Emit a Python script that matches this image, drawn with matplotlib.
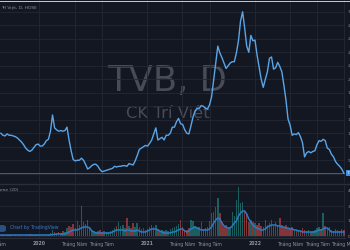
import matplotlib
matplotlib.use('Agg')
import matplotlib.pyplot as plt
import matplotlib.dates as mdates
from matplotlib.lines import Line2D
from matplotlib.patches import FancyBboxPatch
import numpy as np
import pandas as pd

# gia dong cua theo tuan (nghin dong)
price = [13.0, 12.7, 12.6, 12.9, 12.7, 12.7, 12.6, 12.5, 12.3, 12.0,
         11.7, 11.3, 10.8, 10.5, 10.3, 10.5, 10.9, 11.3, 11.4, 11.1,
         11.1, 11.4, 11.9, 12.1, 13.3, 15.7, 13.8, 13.5, 13.3, 13.4,
         13.3, 13.4, 13.9, 12.0, 10.4, 9.1, 8.9, 9.0, 9.0, 9.3,
         9.0, 8.4, 7.7, 7.9, 8.2, 8.4, 8.4, 8.1, 7.6, 7.3,
         7.4, 7.5, 7.6, 7.7, 7.8, 8.1, 8.0, 8.1, 8.1, 8.2,
         8.2, 8.1, 8.5, 8.4, 8.3, 8.9, 9.7, 10.6, 10.8, 11.0,
         11.2, 11.1, 11.5, 12.0, 12.9, 13.8, 12.0, 12.2, 12.4, 12.0,
         12.7, 12.7, 13.0, 13.9, 13.9, 14.7, 15.2, 14.4, 14.3, 13.5,
         13.0, 12.9, 14.1, 15.4, 16.3, 16.7, 16.7, 17.1, 17.0, 16.7,
         16.6, 17.2, 18.4, 20.9, 23.4, 25.9, 24.9, 24.2, 23.4, 22.6,
         23.0, 23.4, 23.6, 23.6, 24.9, 26.7, 29.6, 31.0, 28.6, 25.9,
         25.0, 27.5, 26.7, 26.8, 24.6, 22.8, 21.0, 19.8, 21.0, 22.1,
         24.1, 24.3, 22.5, 22.7, 23.5, 22.9, 22.1, 20.1, 17.9, 15.1,
         14.2, 12.7, 12.9, 12.8, 13.1, 12.5, 11.6, 9.5, 10.1, 10.3,
         10.1, 10.3, 10.4, 11.3, 11.9, 11.8, 12.1, 11.9, 10.8, 10.6,
         9.9, 9.5, 8.8, 8.4, 8.1, 7.7, 7.1]

# khoi luong (trieu cp)
volume = [0.1, 0.1, 0.05, 0.1, 0.15, 0.1, 0.05, 0.1, 0.1, 0.15,
          0.1, 0.05, 0.1, 0.1, 0.2, 0.1, 0.1, 0.15, 0.1, 0.05,
          0.1, 0.1, 0.15, 0.2, 0.3, 0.6, 0.4, 0.3, 0.4, 0.3,
          0.5, 0.4, 0.8, 1.0, 0.9, 1.2, 0.8, 1.5, 1.1, 3.0,
          1.4, 1.2, 1.6, 0.9, 0.6, 0.5, 0.4, 0.5, 0.6, 0.4,
          0.5, 0.4, 0.4, 0.5, 0.6, 0.8, 1.0, 1.4, 1.0, 1.1,
          0.8, 1.8, 1.0, 0.8, 1.3, 0.9, 1.3, 0.9, 0.7, 0.8,
          0.6, 0.7, 0.9, 1.1, 0.9, 1.1, 0.7, 0.5, 0.6, 0.5,
          0.6, 0.5, 0.7, 0.8, 0.9, 1.0, 1.2, 1.6, 0.9, 0.6,
          0.6, 0.8, 1.6, 1.5, 1.0, 0.8, 0.9, 1.4, 0.7, 0.8,
          0.9, 1.5, 2.3, 2.4, 2.9, 3.8, 2.3, 1.4, 0.9, 1.1,
          0.8, 0.9, 2.4, 2.0, 3.6, 4.9, 3.3, 3.4, 2.5, 2.3,
          1.4, 1.6, 1.4, 1.3, 1.1, 1.3, 1.0, 0.9, 1.6, 1.1,
          1.3, 1.6, 1.0, 1.4, 1.0, 1.8, 1.1, 0.9, 1.1, 0.8,
          0.7, 0.9, 0.6, 0.5, 0.6, 0.5, 0.8, 0.6, 0.5, 0.6,
          0.4, 0.5, 0.6, 0.8, 0.9, 0.7, 2.3, 1.0, 0.8, 0.9,
          0.6, 0.5, 0.7, 0.6, 0.5, 0.7, 0.6]

# duong MA(20) cua khoi luong, doc tu hinh
volume_ma = [0.1, 0.1, 0.1, 0.1, 0.1, 0.1, 0.1, 0.1, 0.1, 0.1,
             0.1, 0.1, 0.1, 0.1, 0.1, 0.1, 0.1, 0.1, 0.1, 0.1,
             0.1, 0.1, 0.1, 0.1, 0.1, 0.15, 0.15, 0.2, 0.2, 0.2,
             0.2, 0.2, 0.3, 0.4, 0.5, 0.6, 0.6, 0.6, 0.7, 0.8,
             0.9, 0.9, 0.9, 0.8, 0.5, 0.4, 0.3, 0.3, 0.3, 0.3,
             0.3, 0.3, 0.3, 0.3, 0.4, 0.5, 0.6, 0.6, 0.6, 0.6,
             0.5, 0.6, 0.6, 0.5, 0.5, 0.5, 0.6, 0.5, 0.4, 0.4,
             0.4, 0.5, 0.6, 0.7, 0.7, 0.7, 0.6, 0.5, 0.4, 0.3,
             0.3, 0.3, 0.3, 0.4, 0.4, 0.5, 0.6, 0.7, 0.7, 0.5,
             0.4, 0.5, 0.7, 0.8, 0.9, 0.8, 0.7, 0.6, 0.6, 0.6,
             0.6, 0.7, 0.9, 1.3, 1.6, 1.8, 1.7, 1.3, 1.0, 0.9,
             0.8, 0.8, 1.0, 1.3, 1.5, 2.0, 2.3, 2.5, 2.5, 2.2,
             1.7, 1.4, 1.1, 0.9, 0.8, 0.7, 0.6, 0.6, 0.7, 0.9,
             1.0, 1.1, 1.1, 1.1, 1.0, 1.0, 0.9, 0.9, 0.8, 0.8,
             0.7, 0.7, 0.6, 0.6, 0.5, 0.5, 0.4, 0.4, 0.4, 0.4,
             0.4, 0.4, 0.4, 0.5, 0.6, 0.6, 0.7, 0.8, 0.8, 0.6,
             0.4, 0.4, 0.4, 0.4, 0.4, 0.4, 0.4]

dates = pd.date_range('2019-08-25', periods=len(price), freq='7D')

tick_dates = ['2020-01-01', '2020-05-01', '2020-08-01', '2021-01-01', '2021-05-01',
              '2021-08-01', '2022-01-01', '2022-05-01', '2022-08-01', '2022-11-01']
tick_labels = ['2020', 'Tháng Năm', 'Tháng Tám', '2021', 'Tháng Năm',
               'Tháng Tám', '2022', 'Tháng Năm', 'Tháng Tám', 'Tháng Mười']
price_ticks = np.arange(7, 32, 2)
volume_ticks = [0, 1.5, 3, 4.5]

BG = '#131722'
GRID = '#242835'
TXT = '#8f929b'
W, H = 350, 250

fig = plt.figure(figsize=(3.5, 2.5), dpi=100, facecolor=BG)


def px_axes(left, top, right, bottom):
    # vi tri theo pixel, goc tren trai
    a = fig.add_axes([left/W, 1 - bottom/H, (right - left)/W, (bottom - top)/H])
    a.set_facecolor(BG)
    for s in a.spines.values():
        s.set_visible(False)
    return a


ax = px_axes(0, 0, 345, 183)
axv = px_axes(0, 185, 345, 238)

xmin, xmax = pd.Timestamp('2019-08-22'), pd.Timestamp('2022-11-03')
tdates = pd.to_datetime(tick_dates)

# panel gia
ax.text(167/W, 1 - 91/H, 'TVB, D', transform=fig.transFigure, fontsize=25.5,
        color='#484b56', ha='center', va='baseline', zorder=0)
ax.text(168/W, 1 - 118/H, 'CK Trí Việt', transform=fig.transFigure, fontsize=11.8,
        color='#484b56', ha='center', va='baseline', zorder=0)
ax.plot(dates, price, color='#5aa5e8', lw=1.0, zorder=3)
ax.axhline(price[-1], color='#4f7fb0', lw=0.7, alpha=0.7, zorder=2)
ax.set_xlim(xmin, xmax)
ax.set_ylim(5.63, 32.74)
ax.set_xticks(tdates)
ax.set_yticks(price_ticks)
ax.set_yticklabels(['{:.2f}'.format(v) for v in price_ticks])
ax.yaxis.tick_right()
ax.tick_params(axis='x', labelbottom=False, length=0)
ax.tick_params(axis='y', labelsize=3.2, colors=TXT, length=0, pad=2)
ax.grid(color=GRID, lw=0.6)
ax.set_axisbelow(True)
ax.annotate('{:.2f}'.format(price[-1]), xy=(1, price[-1]),
            xycoords=('axes fraction', 'data'), xytext=(1.5, 0),
            textcoords='offset points', fontsize=3.2, color='white',
            ha='left', va='center', annotation_clip=False,
            bbox=dict(boxstyle='square,pad=0.3', fc='#3d8be0', ec='none'))

# panel khoi luong
up = np.r_[True, np.diff(price) >= 0]
colors = np.where(up, '#26a69a', '#ef5350')
axv.bar(dates, volume, width=5, color=colors, alpha=0.5, zorder=2)
axv.plot(dates, volume_ma, color='#2b7bc4', lw=1.1, zorder=3)
axv.set_xlim(xmin, xmax)
axv.set_ylim(-0.2, 5.1)
axv.set_yticks(volume_ticks)
axv.set_yticklabels(['{:g}M'.format(v) for v in volume_ticks])
axv.yaxis.tick_right()
axv.set_xticks(tdates)
axv.set_xticklabels(tick_labels)
axv.tick_params(axis='y', labelsize=3.2, colors=TXT, length=0, pad=2)
axv.tick_params(axis='x', labelsize=3.3, colors=TXT, length=0, pad=2.5)
for lab in axv.get_xticklabels():
    if lab.get_text().isdigit():
        lab.set_fontweight('bold')
axv.grid(color=GRID, lw=0.6)
axv.set_axisbelow(True)
axv.spines['bottom'].set_visible(True)
axv.spines['bottom'].set_color('#2a2e39')
# nhan bi cat ben trai
axv.text(pd.Timestamp('2019-08-01'), -0.115, 'Tháng Tám', fontsize=3.3, color=TXT,
         ha='center', va='center', transform=axv.get_xaxis_transform(), clip_on=False)

# chu thich va duong phan cach
fig.text(1/W, 1 - 7/H, 'Trí Việt, D, HOSE', fontsize=3.2, color=TXT, va='center')
fig.text(-8/W, 1 - 190/H, 'Volume (20)', fontsize=3.2, color=TXT, va='center')
fig.text(10/W, 1 - 228/H, 'Chart by TradingView', fontsize=3.3, color='#3a78c8', va='center')
fig.add_artist(FancyBboxPatch((-2/W, 1 - 232/H), 8/W, 7/H, transform=fig.transFigure,
                              boxstyle='round,pad=0,rounding_size=0.01',
                              fc='#2b4f80', ec='none'))
fig.add_artist(Line2D([0, 1], [1 - 184/H]*2, color='#2a2e39', lw=1.0))
fig.add_artist(Line2D([0, 1], [1 - 0.5/H]*2, color='#c8cad0', lw=0.7))

plt.savefig('out.png', dpi=100, facecolor=BG)
